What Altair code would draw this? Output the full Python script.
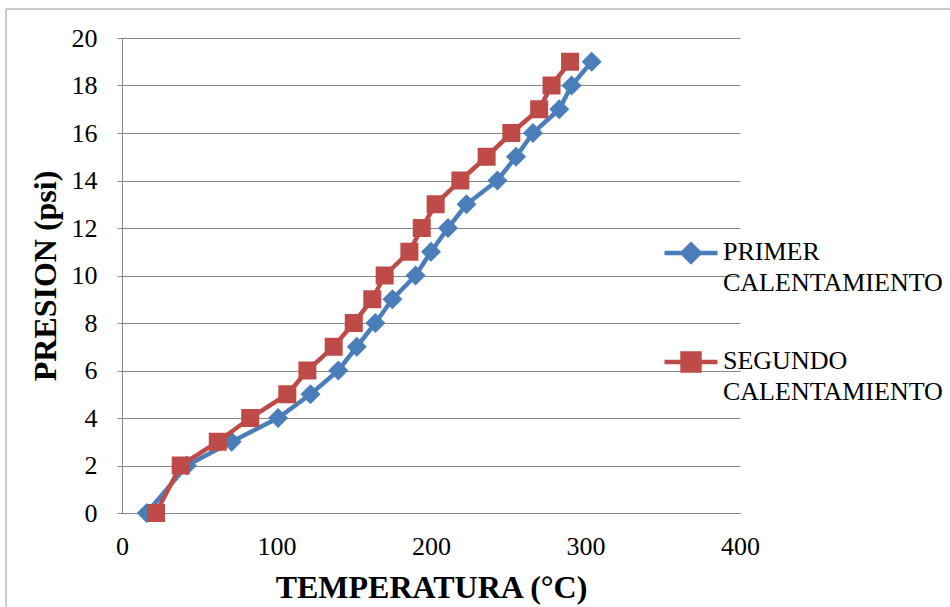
import altair as alt
import pandas as pd

# ---- data ----
presion = [0, 2, 3, 4, 5, 6, 7, 8, 9, 10, 11, 12, 13, 14, 15, 16, 17, 18, 19]
temp_primer = [16, 42, 71, 101, 122, 140, 152, 164, 175, 190, 200, 211, 223, 243, 255, 266, 283, 291, 304]
temp_segundo = [22, 38, 62, 83, 107, 120, 137, 150, 162, 170, 186, 194, 203, 219, 236, 252, 270, 278, 290]
series_names = ["PRIMER CALENTAMIENTO", "SEGUNDO CALENTAMIENTO"]
x_ticks = [0, 100, 200, 300, 400]
y_ticks = [0, 2, 4, 6, 8, 10, 12, 14, 16, 18, 20]

BLUE = "#4a7ebb"
RED = "#be4b48"
GRID = "#868686"
FONT = "Liberation Serif"

df = pd.concat([
    pd.DataFrame({"t": temp_primer, "p": presion, "serie": series_names[0]}),
    pd.DataFrame({"t": temp_segundo, "p": presion, "serie": series_names[1]}),
], ignore_index=True)

x_enc = alt.X("t:Q", scale=alt.Scale(domain=[0, 400], nice=False),
              axis=alt.Axis(values=x_ticks, grid=False, ticks=False, tickSize=0,
                            labelPadding=20, labelFlush=False, labelFont=FONT,
                            title="TEMPERATURA (°C)",
                            titleX=309, titleY=84, titleBaseline="alphabetic",
                            titleAlign="center"))
y_enc = alt.Y("p:Q", scale=alt.Scale(domain=[0, 20], nice=False),
              axis=alt.Axis(values=y_ticks, grid=True, ticks=True, tickSize=5,
                            labelPadding=20, labelFont=FONT, title="PRESION (psi)",
                            titleAngle=270, titleX=-67, titleY=237.5,
                            titleBaseline="alphabetic", titleAlign="center"))

base = alt.Chart(df)

def series_layer(name, color, shape, size):
    return base.transform_filter(alt.datum.serie == name).mark_line(
        color=color, strokeWidth=4.5,
        point=alt.OverlayMarkDef(shape=shape, size=size, filled=True, color=color, opacity=1)
    ).encode(x=x_enc, y=y_enc, order=alt.Order("p:Q"))

blue = series_layer(series_names[0], BLUE, "diamond", 400)
red = series_layer(series_names[1], RED, "square", 324)

# legend symbols: a line segment with the marker in the middle
d = 0.53
h = 0.32
diamond_path = (f"M-1,{d}L1,{d}M0,{d-h}L{h},{d}L0,{d+h}L{-h},{d}Z")
square_path = (f"M-1,{d}L1,{d}M{-h},{d-h}L{h},{d-h}L{h},{d+h}L{-h},{d+h}Z")

leg = alt.Legend(title=None, orient="none", legendX=540, legendY=172,
                 labelExpr="split(datum.label, ' ')", labelFont=FONT,
                 labelFontSize=26, labelColor="black",
                 labelBaseline="top", labelLimit=0, labelOffset=3,
                 symbolSize=2809, symbolStrokeWidth=4.5, symbolOpacity=1,
                 rowPadding=23)

legend_layer = base.transform_filter("false").mark_point(filled=True).encode(
    x=x_enc, y=y_enc,
    color=alt.Color("serie:N", scale=alt.Scale(domain=series_names, range=[BLUE, RED]), legend=leg),
    stroke=alt.Stroke("serie:N", scale=alt.Scale(domain=series_names, range=[BLUE, RED]), legend=leg),
    shape=alt.Shape("serie:N", scale=alt.Scale(domain=series_names, range=[diamond_path, square_path]), legend=leg),
)

frame = alt.Chart(pd.DataFrame({"k": [0]})).mark_rect(
    fill=None, stroke="#9a9a9a", strokeWidth=1
).encode(x=alt.value(-116), x2=alt.value(1000), y=alt.value(-29), y2=alt.value(700))

chart = alt.layer(frame, blue, red, legend_layer).properties(
    width=618, height=475,
    padding={"left": 122, "top": 38, "right": 210, "bottom": 94},
    autosize=alt.AutoSizeParams(type="none"),
).configure(font=FONT, style={"guide-label": {"lineHeight": 31}}).configure_view(stroke=None).configure_axis(
    labelFont=FONT, labelFontSize=26, labelColor="black",
    titleFont=FONT, titleFontSize=32, titleFontWeight="bold", titleColor="black",
    domainColor=GRID, domainWidth=1, tickColor=GRID, tickWidth=1,
    gridColor=GRID, gridWidth=1, gridOpacity=1,
).configure_legend(labelFont=FONT)

chart.save("out.html", embed_options={"renderer": "svg", "actions": False})
